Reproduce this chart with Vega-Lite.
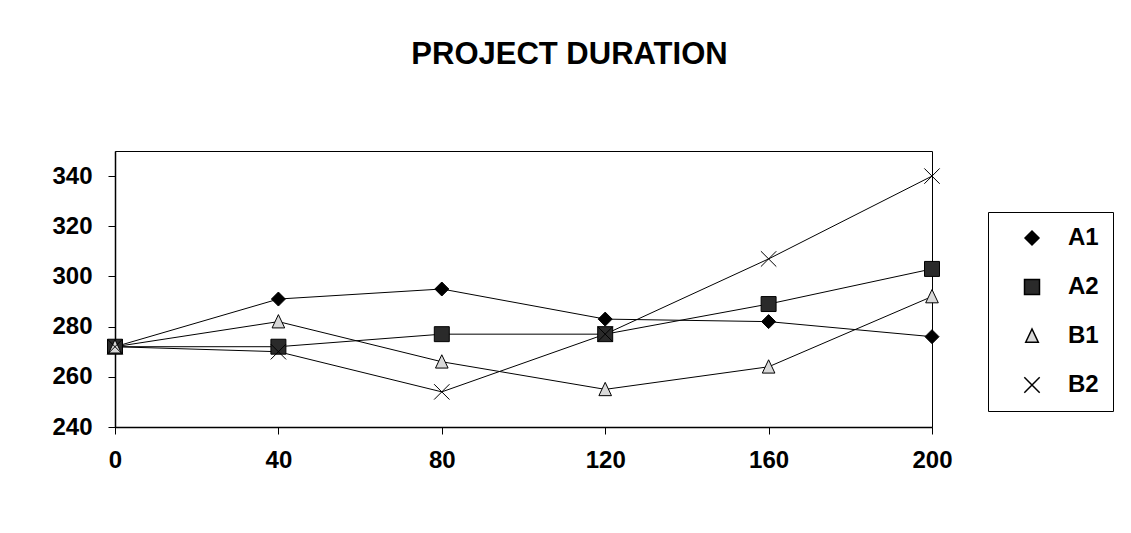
{
  "$schema": "https://vega.github.io/schema/vega-lite/v6.json",
  "width": 817,
  "height": 276,
  "autosize": {"type": "none"},
  "padding": {"left": 115, "top": 151, "right": 199, "bottom": 106},
  "background": "white",
  "title": {
    "text": "PROJECT DURATION",
    "font": "Liberation Sans",
    "fontSize": 31,
    "fontWeight": "bold",
    "color": "black",
    "anchor": "middle",
    "baseline": "alphabetic",
    "dx": 46,
    "offset": 56
  },
  "config": {
    "view": {"stroke": "black", "strokeWidth": 1},
    "axis": {
      "grid": false,
      "domainColor": "black",
      "domainWidth": 1.5,
      "tickColor": "black",
      "tickSize": 7,
      "labelFont": "Liberation Sans",
      "labelFontSize": 24,
      "labelFontWeight": "bold",
      "labelColor": "black",
      "title": null
    },
    "legend": {
      "title": null,
      "orient": "none",
      "legendX": 873,
      "legendY": 61,
      "padding": 14,
      "strokeColor": "black",
      "fillColor": "white",
      "symbolOffset": 18,
      "labelOffset": 24,
      "rowPadding": 25,
      "symbolSize": 196,
      "labelFont": "Liberation Sans",
      "labelFontSize": 24,
      "labelFontWeight": "bold",
      "labelColor": "black"
    }
  },
  "data": {
    "values": [
      {"x": 0, "y": 272, "series": "A1"},
      {"x": 40, "y": 291, "series": "A1"},
      {"x": 80, "y": 295, "series": "A1"},
      {"x": 120, "y": 283, "series": "A1"},
      {"x": 160, "y": 282, "series": "A1"},
      {"x": 200, "y": 276, "series": "A1"},
      {"x": 0, "y": 272, "series": "A2"},
      {"x": 40, "y": 272, "series": "A2"},
      {"x": 80, "y": 277, "series": "A2"},
      {"x": 120, "y": 277, "series": "A2"},
      {"x": 160, "y": 289, "series": "A2"},
      {"x": 200, "y": 303, "series": "A2"},
      {"x": 0, "y": 272, "series": "B1"},
      {"x": 40, "y": 282, "series": "B1"},
      {"x": 80, "y": 266, "series": "B1"},
      {"x": 120, "y": 255, "series": "B1"},
      {"x": 160, "y": 264, "series": "B1"},
      {"x": 200, "y": 292, "series": "B1"},
      {"x": 0, "y": 272, "series": "B2"},
      {"x": 40, "y": 270, "series": "B2"},
      {"x": 80, "y": 254, "series": "B2"},
      {"x": 120, "y": 277, "series": "B2"},
      {"x": 160, "y": 307, "series": "B2"},
      {"x": 200, "y": 340, "series": "B2"}
    ]
  },
  "encoding": {
    "x": {
      "field": "x",
      "type": "quantitative",
      "scale": {"domain": [0, 200], "nice": false, "zero": false},
      "axis": {"values": [0, 40, 80, 120, 160, 200], "labelPadding": 14, "labelFlush": false}
    },
    "y": {
      "field": "y",
      "type": "quantitative",
      "scale": {"domain": [240, 350], "nice": false, "zero": false},
      "axis": {"values": [240, 260, 280, 300, 320, 340], "labelPadding": 16}
    }
  },
  "layer": [
    {
      "mark": {"type": "line", "color": "black", "strokeWidth": 1},
      "encoding": {"detail": {"field": "series"}}
    },
    {
      "mark": {"type": "point", "filled": true, "size": 196, "stroke": "black", "strokeWidth": 1, "opacity": 1},
      "encoding": {
        "shape": {
          "field": "series",
          "type": "nominal",
          "scale": {
            "domain": ["A1", "A2", "B1", "B2"],
            "range": [
              "M-1,0L0,-1L1,0L0,1Z",
              "M-1.07,-1.07H1.07V1.07H-1.07Z",
              "M-0.9,0.9L0,-1L0.9,0.9Z",
              "M-1.1,-1.1L1.1,1.1M-1.1,1.1L1.1,-1.1"
            ]
          }
        },
        "fill": {
          "field": "series",
          "type": "nominal",
          "scale": {
            "domain": ["A1", "A2", "B1", "B2"],
            "range": ["#000000", "#2a2a2a", "#d9d9d9", "transparent"]
          }
        }
      }
    }
  ]
}
